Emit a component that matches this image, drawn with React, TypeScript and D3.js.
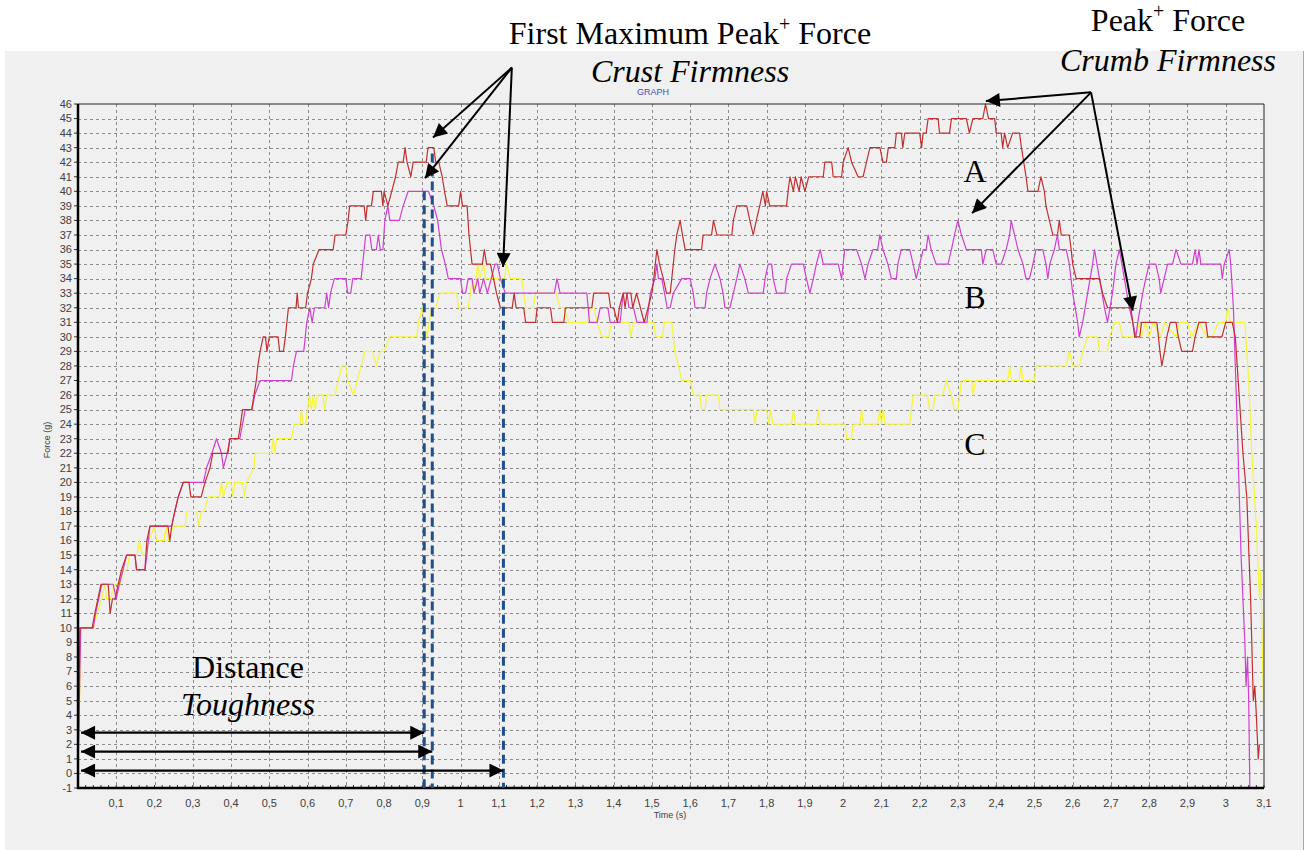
import React from 'react'
import * as d3 from 'd3'

const WIDTH = 1306
const HEIGHT = 850
const PLOT = { left: 78, right: 1264, top: 104, bottom: 788 }

// force (g) against time (s)
const seriesA: [number, number][] = [
  [0, 0], [0.005, 10], [0.037, 10], [0.044, 11], [0.052, 12], [0.06, 13], [0.079, 13], [0.084, 11], [0.09, 12], [0.097, 12],
  [0.105, 13], [0.114, 14], [0.127, 15], [0.149, 15], [0.153, 14], [0.175, 14], [0.18, 16], [0.188, 17], [0.235, 17], [0.24, 16],
  [0.245, 17], [0.253, 18], [0.262, 19], [0.275, 20], [0.29, 20], [0.295, 19], [0.322, 19], [0.332, 20], [0.345, 21], [0.352, 22],
  [0.392, 22], [0.397, 23], [0.419, 23], [0.425, 24], [0.43, 25], [0.454, 25], [0.46, 26], [0.466, 27], [0.47, 28], [0.476, 29],
  [0.484, 30], [0.49, 30], [0.494, 29], [0.5, 30], [0.523, 30], [0.527, 29], [0.537, 29], [0.542, 30], [0.546, 31], [0.55, 32],
  [0.57, 32], [0.573, 33], [0.576, 32], [0.595, 32], [0.6, 33], [0.61, 34], [0.615, 35], [0.63, 36], [0.667, 36], [0.672, 37],
  [0.7, 37], [0.706, 38], [0.71, 39], [0.748, 39], [0.752, 38], [0.756, 39], [0.767, 39], [0.772, 40], [0.793, 40], [0.797, 39],
  [0.8, 40], [0.81, 39], [0.82, 40], [0.83, 41], [0.837, 42], [0.85, 42], [0.855, 43], [0.86, 42], [0.87, 41], [0.876, 42],
  [0.91, 42], [0.915, 43], [0.93, 43], [0.935, 42], [0.943, 42], [0.952, 41], [0.958, 40], [0.965, 39], [0.995, 39], [1.0, 40],
  [1.005, 39], [1.017, 39], [1.022, 37], [1.03, 35], [1.057, 35], [1.062, 36], [1.068, 35], [1.078, 35], [1.086, 34], [1.094, 33],
  [1.104, 32], [1.135, 32], [1.14, 33], [1.145, 32], [1.165, 32], [1.17, 31], [1.196, 31], [1.2, 32], [1.235, 32], [1.24, 31],
  [1.27, 31], [1.274, 32], [1.343, 32], [1.348, 33], [1.387, 33], [1.392, 32], [1.4, 32], [1.41, 31], [1.415, 32], [1.425, 33],
  [1.43, 32], [1.435, 33], [1.445, 33], [1.45, 32], [1.46, 33], [1.47, 32], [1.48, 31], [1.49, 32], [1.5, 33], [1.505, 34],
  [1.509, 35], [1.513, 36], [1.52, 35], [1.53, 34], [1.538, 33], [1.548, 33], [1.56, 36], [1.565, 37], [1.574, 38], [1.58, 37],
  [1.587, 36], [1.63, 36], [1.634, 37], [1.656, 37], [1.661, 38], [1.67, 37], [1.709, 37], [1.713, 38], [1.722, 39], [1.748, 39],
  [1.756, 38], [1.765, 37], [1.773, 38], [1.782, 39], [1.79, 40], [1.797, 39], [1.8, 40], [1.808, 39], [1.852, 39], [1.856, 40],
  [1.861, 41], [1.87, 40], [1.875, 41], [1.885, 40], [1.89, 41], [1.9, 40], [1.91, 41], [1.948, 41], [1.952, 42], [1.97, 42],
  [1.974, 41], [1.996, 41], [2.0, 42], [2.013, 43], [2.022, 42], [2.039, 41], [2.052, 41], [2.061, 42], [2.07, 43], [2.096, 43],
  [2.104, 42], [2.113, 42], [2.118, 43], [2.135, 43], [2.139, 44], [2.152, 44], [2.156, 43], [2.161, 44], [2.2, 44], [2.205, 43],
  [2.209, 44], [2.217, 44], [2.222, 45], [2.248, 45], [2.252, 44], [2.278, 44], [2.283, 45], [2.322, 45], [2.33, 44], [2.339, 45],
  [2.365, 45], [2.372, 46], [2.38, 45], [2.396, 45], [2.4, 44], [2.413, 44], [2.417, 43], [2.422, 44], [2.43, 43], [2.443, 44],
  [2.461, 44], [2.466, 43], [2.472, 42], [2.478, 41], [2.483, 40], [2.509, 40], [2.517, 41], [2.526, 40], [2.53, 39], [2.539, 38],
  [2.548, 37], [2.56, 37], [2.565, 38], [2.57, 37], [2.591, 37], [2.596, 36], [2.6, 35], [2.609, 34], [2.67, 34], [2.678, 33],
  [2.691, 32], [2.752, 32], [2.757, 31], [2.762, 30], [2.775, 30], [2.78, 31], [2.82, 31], [2.828, 29], [2.833, 28], [2.84, 29],
  [2.846, 30], [2.855, 31], [2.87, 31], [2.876, 30], [2.885, 29], [2.913, 29], [2.92, 30], [2.93, 31], [2.948, 31], [2.953, 30],
  [2.99, 30], [3.0, 31], [3.017, 31], [3.025, 30], [3.035, 26], [3.045, 22], [3.055, 19], [3.065, 12], [3.072, 5], [3.076, 6],
  [3.08, 4], [3.085, 1], [3.088, 2],
]

const seriesB: [number, number][] = [
  [0, 0], [0.007, 10], [0.04, 10], [0.046, 11], [0.054, 12], [0.062, 13], [0.092, 13], [0.1, 12], [0.108, 13], [0.118, 14],
  [0.127, 15], [0.149, 15], [0.153, 14], [0.175, 14], [0.18, 15], [0.184, 16], [0.188, 17], [0.245, 17], [0.253, 18], [0.262, 19],
  [0.275, 20], [0.328, 20], [0.336, 21], [0.35, 22], [0.362, 23], [0.375, 22], [0.38, 21], [0.39, 22], [0.397, 23], [0.423, 23],
  [0.43, 24], [0.437, 25], [0.455, 25], [0.462, 26], [0.476, 27], [0.558, 27], [0.563, 28], [0.571, 29], [0.59, 29], [0.594, 30],
  [0.598, 31], [0.606, 32], [0.612, 31], [0.618, 32], [0.645, 32], [0.65, 33], [0.655, 32], [0.66, 33], [0.67, 34], [0.7, 34],
  [0.705, 33], [0.713, 33], [0.718, 34], [0.74, 34], [0.744, 35], [0.748, 36], [0.752, 37], [0.763, 37], [0.768, 36], [0.78, 36],
  [0.785, 37], [0.79, 36], [0.797, 36], [0.802, 38], [0.81, 39], [0.815, 38], [0.84, 38], [0.85, 39], [0.863, 40], [0.916, 40],
  [0.93, 39], [0.94, 38], [0.95, 36], [0.96, 35], [0.968, 34], [1.0, 34], [1.005, 33], [1.013, 33], [1.02, 34], [1.03, 34],
  [1.035, 33], [1.045, 34], [1.05, 33], [1.06, 34], [1.07, 33], [1.08, 34], [1.09, 35], [1.096, 35], [1.104, 34], [1.117, 33],
  [1.245, 33], [1.252, 34], [1.26, 33], [1.33, 33], [1.337, 31], [1.357, 31], [1.365, 32], [1.385, 32], [1.391, 31], [1.417, 31],
  [1.425, 33], [1.435, 33], [1.44, 32], [1.452, 32], [1.461, 31], [1.487, 31], [1.496, 33], [1.508, 34], [1.513, 35], [1.517, 34],
  [1.526, 34], [1.54, 32], [1.548, 32], [1.556, 33], [1.578, 34], [1.6, 34], [1.608, 33], [1.613, 32], [1.639, 32], [1.643, 33],
  [1.652, 34], [1.665, 35], [1.678, 34], [1.686, 33], [1.691, 32], [1.704, 32], [1.713, 33], [1.722, 34], [1.73, 35], [1.743, 34],
  [1.752, 33], [1.791, 33], [1.796, 34], [1.804, 35], [1.813, 35], [1.817, 34], [1.826, 33], [1.848, 33], [1.852, 34], [1.865, 35],
  [1.896, 35], [1.904, 34], [1.913, 33], [1.922, 34], [1.93, 35], [1.94, 36], [1.948, 35], [1.987, 35], [1.996, 34], [2.004, 36],
  [2.035, 36], [2.048, 35], [2.057, 34], [2.065, 35], [2.078, 36], [2.09, 36], [2.096, 37], [2.104, 36], [2.117, 35], [2.126, 34],
  [2.139, 34], [2.143, 35], [2.152, 36], [2.174, 36], [2.183, 35], [2.191, 34], [2.2, 35], [2.209, 36], [2.217, 36], [2.222, 37],
  [2.23, 36], [2.243, 35], [2.274, 35], [2.283, 36], [2.291, 37], [2.3, 38], [2.309, 37], [2.322, 36], [2.361, 36], [2.365, 35],
  [2.374, 36], [2.391, 36], [2.4, 35], [2.413, 35], [2.426, 36], [2.435, 37], [2.439, 38], [2.448, 37], [2.457, 36], [2.47, 35],
  [2.478, 34], [2.487, 34], [2.496, 35], [2.504, 36], [2.522, 36], [2.53, 35], [2.535, 34], [2.54, 35], [2.552, 36], [2.56, 37],
  [2.565, 36], [2.583, 36], [2.591, 35], [2.6, 33], [2.613, 31], [2.617, 30], [2.626, 31], [2.639, 33], [2.652, 35], [2.657, 36],
  [2.67, 34], [2.683, 32], [2.691, 31], [2.704, 33], [2.713, 35], [2.722, 36], [2.735, 34], [2.748, 32], [2.757, 31], [2.765, 30],
  [2.77, 31], [2.783, 33], [2.791, 34], [2.8, 35], [2.817, 35], [2.826, 34], [2.83, 33], [2.839, 34], [2.848, 35], [2.861, 35],
  [2.87, 36], [2.883, 35], [2.913, 35], [2.92, 36], [2.925, 35], [2.93, 36], [2.935, 35], [2.987, 35], [2.991, 34], [2.996, 35],
  [3.009, 36], [3.013, 35], [3.02, 32], [3.03, 24], [3.04, 15], [3.05, 9], [3.053, 6], [3.057, 8], [3.06, 5], [3.063, -1],
]

const seriesC: [number, number][] = [
  [0, 0], [0.008, 10], [0.04, 10], [0.05, 11], [0.062, 12], [0.07, 13], [0.075, 12], [0.085, 12], [0.095, 13], [0.11, 13],
  [0.118, 14], [0.128, 14], [0.135, 15], [0.155, 15], [0.16, 16], [0.168, 15], [0.175, 15], [0.185, 16], [0.2, 17], [0.205, 16],
  [0.225, 16], [0.23, 17], [0.236, 16], [0.25, 17], [0.28, 17], [0.284, 18], [0.31, 18], [0.316, 17], [0.322, 18], [0.33, 18],
  [0.34, 19], [0.37, 19], [0.375, 20], [0.38, 19], [0.39, 20], [0.4, 20], [0.405, 19], [0.41, 20], [0.43, 20], [0.435, 19],
  [0.44, 20], [0.46, 21], [0.463, 22], [0.506, 22], [0.51, 23], [0.515, 22], [0.519, 23], [0.558, 23], [0.565, 24], [0.58, 24],
  [0.584, 25], [0.588, 24], [0.595, 24], [0.6, 25], [0.605, 26], [0.61, 25], [0.615, 26], [0.62, 25], [0.625, 26], [0.64, 26],
  [0.645, 25], [0.65, 26], [0.672, 26], [0.68, 27], [0.69, 28], [0.7, 28], [0.705, 27], [0.72, 26], [0.73, 27], [0.74, 28],
  [0.75, 29], [0.77, 29], [0.78, 28], [0.79, 29], [0.8, 29], [0.815, 30], [0.885, 30], [0.89, 31], [0.9, 32], [0.906, 31],
  [0.912, 30], [0.918, 31], [0.925, 32], [0.935, 32], [0.946, 33], [0.99, 33], [0.995, 32], [1.02, 32], [1.026, 33], [1.03, 34],
  [1.035, 33], [1.045, 35], [1.05, 34], [1.06, 35], [1.065, 34], [1.115, 34], [1.12, 35], [1.13, 34], [1.16, 34], [1.165, 33],
  [1.17, 32], [1.19, 32], [1.196, 33], [1.25, 33], [1.26, 32], [1.27, 32], [1.283, 31], [1.33, 31], [1.34, 32], [1.35, 32],
  [1.356, 31], [1.37, 30], [1.387, 30], [1.395, 31], [1.44, 31], [1.445, 30], [1.452, 31], [1.505, 31], [1.51, 30], [1.528, 30],
  [1.533, 31], [1.552, 31], [1.56, 29], [1.57, 28], [1.578, 27], [1.6, 27], [1.609, 26], [1.626, 26], [1.63, 25], [1.639, 25],
  [1.643, 26], [1.674, 26], [1.678, 25], [1.765, 25], [1.77, 24], [1.775, 25], [1.8, 25], [1.806, 24], [1.81, 25], [1.817, 24],
  [1.865, 24], [1.87, 25], [1.875, 24], [1.93, 24], [1.935, 25], [1.94, 24], [2.005, 24], [2.009, 23], [2.022, 23], [2.026, 24],
  [2.044, 24], [2.048, 25], [2.053, 24], [2.09, 24], [2.096, 25], [2.1, 24], [2.105, 25], [2.11, 24], [2.174, 24], [2.183, 26],
  [2.22, 26], [2.226, 25], [2.235, 25], [2.24, 26], [2.26, 26], [2.27, 27], [2.283, 26], [2.29, 25], [2.3, 25], [2.309, 27],
  [2.335, 27], [2.34, 26], [2.345, 27], [2.43, 27], [2.435, 28], [2.44, 27], [2.46, 27], [2.465, 28], [2.47, 27], [2.5, 27],
  [2.504, 28], [2.583, 28], [2.591, 29], [2.6, 28], [2.617, 28], [2.626, 29], [2.639, 30], [2.665, 30], [2.67, 29], [2.69, 29],
  [2.696, 30], [2.71, 31], [2.722, 31], [2.73, 30], [2.765, 30], [2.774, 31], [2.78, 30], [2.79, 31], [2.8, 30], [2.81, 31],
  [2.83, 30], [2.84, 31], [2.87, 30], [2.88, 31], [2.9, 31], [2.91, 30], [2.93, 31], [2.95, 30], [2.965, 30], [2.98, 31],
  [3.0, 31], [3.005, 32], [3.012, 31], [3.05, 31], [3.06, 27], [3.068, 22], [3.08, 17], [3.088, 12], [3.092, 14], [3.096, 8],
  [3.1, 3],
]

const series = [
  { name: 'C', color: '#f5f53a', data: seriesC },
  { name: 'B', color: '#d040d0', data: seriesB },
  { name: 'A', color: '#c03030', data: seriesA },
]

const yTicks = d3.range(-1, 47)
const xTicks = d3.range(1, 32).map(i => i / 10)
const xMinor = d3.range(1, 156).map(i => i / 50)

// first maximum peaks (crust firmness) -> dashed markers and distance arrows
const firstPeaks = [
  { t: 0.905, f: 40, arrowF: 2.8 },
  { t: 0.926, f: 42.6, arrowF: 1.5 },
  { t: 1.112, f: 34, arrowF: 0.2 },
]

// arrows from the captions to the points they name, in data units
const crustArrows = { from: [1.134, 48.5], to: [[0.928, 43.7], [0.907, 40.9], [1.111, 34.8]] }
const crumbArrows = { from: [2.648, 46.8], to: [[2.373, 46.2], [2.337, 38.5], [2.757, 31.8]] }

const fmt = (v: number) => String(Math.round(v * 10) / 10).replace('.', ',')

const App = () => {
  const x = d3.scaleLinear().domain([0, 3.1]).range([PLOT.left, PLOT.right])
  const y = d3.scaleLinear().domain([-1, 46]).range([PLOT.bottom, PLOT.top])
  const path = d3.line<[number, number]>().x(d => x(d[0])).y(d => y(d[1]))

  const serif = '"Liberation Serif", "Times New Roman", serif'
  const sans = '"Liberation Sans", Arial, sans-serif'

  return (
    <svg width={WIDTH} height={HEIGHT} style={{ position: 'absolute', left: 0, top: 0, background: '#fff' }}>
      <defs>
        <marker id="head" viewBox="0 0 10 10" refX="10" refY="5" markerWidth="17" markerHeight="14"
          markerUnits="userSpaceOnUse" orient="auto-start-reverse">
          <path d="M0,0L10,5L0,10z" fill="#000" />
        </marker>
        <clipPath id="plot">
          <rect x={PLOT.left} y={PLOT.top - 2} width={PLOT.right - PLOT.left} height={PLOT.bottom - PLOT.top + 2} />
        </clipPath>
      </defs>

      <rect x={5} y={51} width={1298} height={HEIGHT - 51} fill="#f0f0f0" />
      <line x1={1303.5} x2={1303.5} y1={51} y2={HEIGHT} stroke="#a8a8a8" />

      {/* grid */}
      <g stroke="#8c8c8c" strokeWidth={1} strokeDasharray="3,3">
        {yTicks.filter(v => v > -1 && v < 46).map(v => (
          <line key={'h' + v} x1={PLOT.left} x2={PLOT.right} y1={Math.round(y(v)) + 0.5} y2={Math.round(y(v)) + 0.5} />
        ))}
        {xTicks.filter(v => v < 3.1).map(v => (
          <line key={'v' + v} x1={Math.round(x(v)) + 0.5} x2={Math.round(x(v)) + 0.5} y1={PLOT.top} y2={PLOT.bottom} />
        ))}
      </g>

      {/* y axis */}
      <g fontFamily={sans} fontSize={11} fill="#404040" textAnchor="end">
        {yTicks.map(v => (
          <g key={'yt' + v}>
            <line x1={PLOT.left - 4} x2={PLOT.left} y1={y(v)} y2={y(v)} stroke="#333" />
            <text x={PLOT.left - 6} y={y(v)} dy="0.35em">{v}</text>
          </g>
        ))}
      </g>
      {/* x axis */}
      <g fontFamily={sans} fontSize={11} fill="#404040" textAnchor="middle">
        {xTicks.map(v => (
          <text key={'xt' + v} x={x(v)} y={PLOT.bottom + 19}>{fmt(v)}</text>
        ))}
        {xMinor.map(v => (
          <line key={'xm' + v} x1={x(v)} x2={x(v)} y1={PLOT.bottom - 3} y2={PLOT.bottom} stroke="#333" />
        ))}
      </g>
      <text x={670} y={818} fontFamily={sans} fontSize={9} fill="#404040" textAnchor="middle">Time (s)</text>
      <text transform="translate(50,440) rotate(-90)" fontFamily={sans} fontSize={9} fill="#404040" textAnchor="middle">Force (g)</text>
      <text x={653} y={95} fontFamily={sans} fontSize={9} fill="#4b4bb8" textAnchor="middle">GRAPH</text>

      {/* traces */}
      <g clipPath="url(#plot)" fill="none" strokeWidth={1.2} strokeLinejoin="round">
        {series.map(s => (
          <path key={s.name} d={path(s.data) || ''} stroke={s.color} />
        ))}
      </g>

      {/* frame */}
      <line x1={PLOT.left} x2={PLOT.right} y1={PLOT.top} y2={PLOT.top} stroke="#222" />
      <line x1={PLOT.right} x2={PLOT.right} y1={PLOT.top} y2={PLOT.bottom} stroke="#222" />
      <line x1={PLOT.left} x2={PLOT.left} y1={PLOT.top} y2={PLOT.bottom + 1} stroke="#000" strokeWidth={2.5} />
      <line x1={PLOT.left - 1} x2={PLOT.right} y1={PLOT.bottom} y2={PLOT.bottom} stroke="#000" strokeWidth={2.5} />

      {/* first peak markers and distance arrows */}
      {firstPeaks.map((p, i) => (
        <g key={'fp' + i}>
          <line x1={x(p.t)} x2={x(p.t)} y1={y(p.f)} y2={PLOT.bottom} stroke="#1f4f8f" strokeWidth={3} strokeDasharray="9,5" />
          <line x1={x(0.008)} x2={x(p.t)} y1={y(p.arrowF)} y2={y(p.arrowF)} stroke="#000" strokeWidth={2.2}
            markerStart="url(#head)" markerEnd="url(#head)" />
        </g>
      ))}

      {[crustArrows, crumbArrows].map((a, i) => (
        <g key={'ar' + i}>
          {a.to.map((t, j) => (
            <line key={j} x1={x(a.from[0])} y1={y(a.from[1])} x2={x(t[0])} y2={y(t[1])} stroke="#000" strokeWidth={2}
              markerEnd="url(#head)" />
          ))}
        </g>
      ))}

      {/* captions */}
      <g fontFamily={serif} fontSize={32} fill="#000" textAnchor="middle">
        <text x={690} y={44}>First Maximum Peak<tspan fontSize={20} dy={-13}>+</tspan><tspan dy={13}> Force</tspan></text>
        <text x={690} y={82} fontStyle="italic">Crust Firmness</text>
        <text x={1168} y={31}>Peak<tspan fontSize={20} dy={-13}>+</tspan><tspan dy={13}> Force</tspan></text>
        <text x={1168} y={71} fontStyle="italic">Crumb Firmness</text>
        <text x={975} y={182}>A</text>
        <text x={975} y={308}>B</text>
        <text x={975} y={455}>C</text>
        <text x={248} y={678}>Distance</text>
        <text x={248} y={715} fontStyle="italic">Toughness</text>
      </g>
    </svg>
  )
}

export default App
